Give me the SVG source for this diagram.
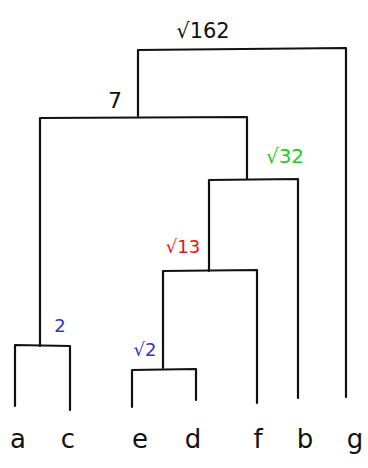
<svg xmlns="http://www.w3.org/2000/svg" width="368" height="468" viewBox="0 0 368 468">
<style>
.ln{stroke:#111;stroke-width:2.2;fill:none;stroke-linecap:round;stroke-linejoin:round}
.leaf{font-family:"DejaVu Sans","Liberation Sans",sans-serif;font-size:26px;fill:#111;text-anchor:middle}
.lab{font-family:"DejaVu Sans","Liberation Sans",sans-serif;font-size:18px;text-anchor:middle}
</style>
<rect width="368" height="468" fill="#fff"/>
<g id="connectors">
<path class="ln" d="M138,116 V50 L346,48 V397"/>
<path class="ln" d="M40,346 V118 L247,117 V179"/>
<path class="ln" d="M209,271 V180 L298,179 V398"/>
<path class="ln" d="M163,368 V271 L257,270 V403"/>
<path class="ln" d="M132,407 V370 L196,369 V400"/>
<path class="ln" d="M15,406 V345 L70,346 V410"/>
</g>
<g id="n_a"><text class="leaf" x="18" y="448">a</text></g>
<g id="n_c"><text class="leaf" x="68" y="448">c</text></g>
<g id="n_e"><text class="leaf" x="140" y="448">e</text></g>
<g id="n_d"><text class="leaf" x="193" y="448">d</text></g>
<g id="n_f"><text class="leaf" x="258" y="448">f</text></g>
<g id="n_b"><text class="leaf" x="305" y="448">b</text></g>
<g id="n_g"><text class="leaf" x="355" y="448">g</text></g>
<g id="n_ac"><text class="lab" x="60" y="332" fill="#3333cc">2</text></g>
<g id="n_ed"><text class="lab" x="145" y="356" fill="#3333cc">√2</text></g>
<g id="n_edf"><text class="lab" x="183" y="253" fill="#ee1111">√13</text></g>
<g id="n_edfb"><text class="lab" x="285" y="163" fill="#22cc22" style="font-size:20px">√32</text></g>
<g id="n_acedfb"><text class="lab" x="115" y="108" fill="#111" style="font-size:22px">7</text></g>
<g id="n_root"><text class="lab" x="203" y="38" fill="#111" style="font-size:21px">√162</text></g>
</svg>
